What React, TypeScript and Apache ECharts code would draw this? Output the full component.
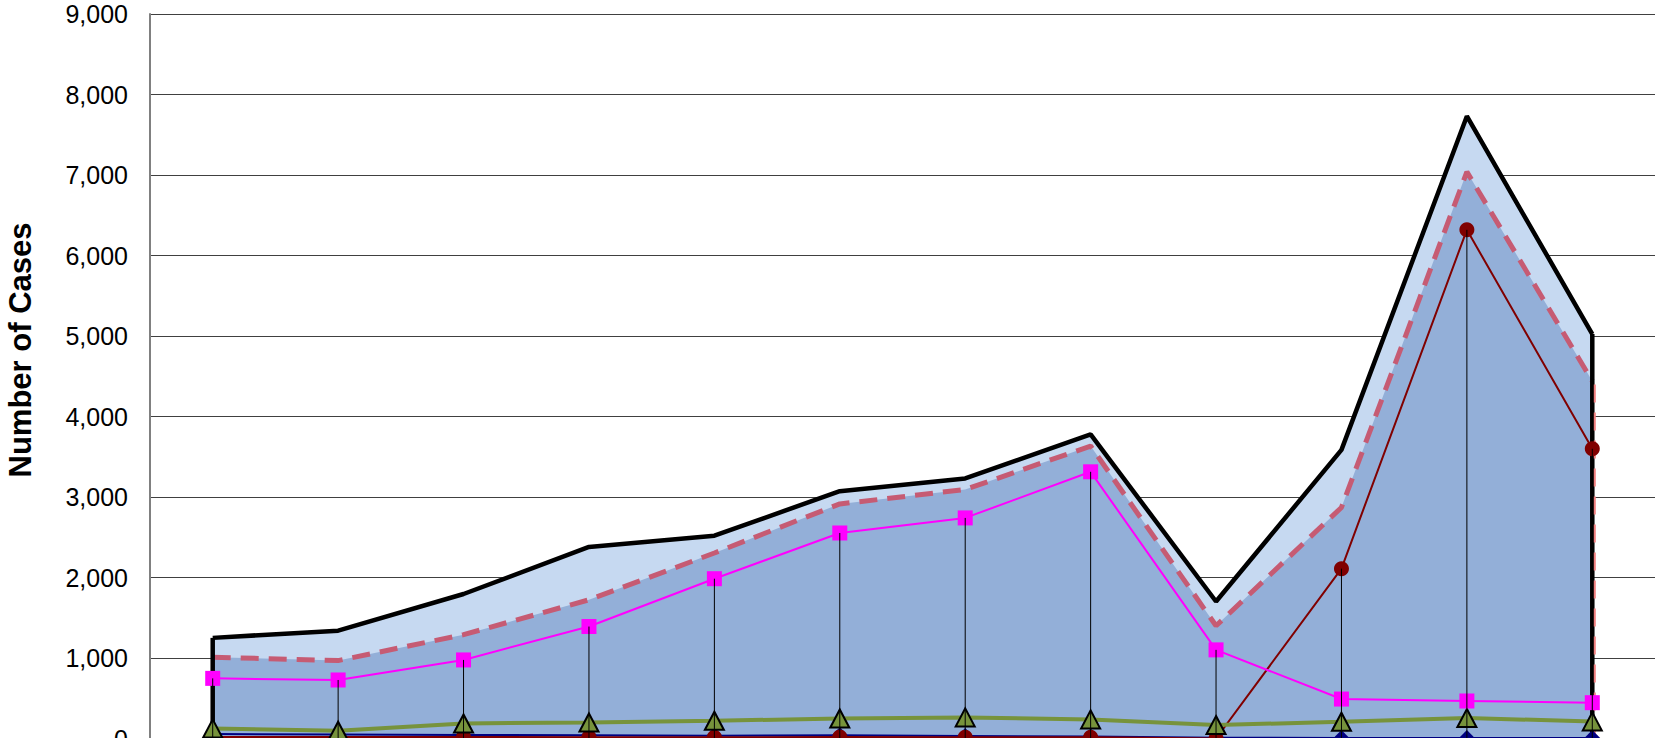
import React, { useEffect, useRef } from "react";
import * as echarts from "echarts";

const categories = ["1", "2", "3", "4", "5", "6", "7", "8", "9", "10", "11", "12"];
const totalCases = [1250, 1340, 1795, 2380, 2520, 3072, 3230, 3778, 1702, 3585, 7730, 5024];
const subtotalCases = [1010, 968, 1290, 1723, 2304, 2914, 3093, 3633, 1400, 2870, 7040, 4440];
const magentaSeries = [747, 727, 976, 1391, 1985, 2553, 2740, 3313, 1101, 490, 466, 445];
const greenSeries = [125, 96, 187, 199, 220, 249, 262, 237, 167, 208, 254, 212];
const redSeries = [20, 18, 20, 15, 15, 20, 15, 15, 0, 2110, 6319, 3599];
const navySeries = [55, 50, 45, 40, 35, 40, 30, 25, 10, 5, 5, 5];
const yTicks = [0, 1000, 2000, 3000, 4000, 5000, 6000, 7000, 8000, 9000];

const FONT = "'Liberation Sans', Arial, sans-serif";

export default function App() {
  const ref = useRef<HTMLDivElement>(null);

  useEffect(() => {
    if (!ref.current) return;
    const chart = echarts.init(ref.current, null, { renderer: "svg" });
    const last = categories.length - 1;
    const dropTops = categories.map((_, i) =>
      Math.max(magentaSeries[i], greenSeries[i], redSeries[i], navySeries[i])
    );

    const edgeData = [
      [0, totalCases[0], 0],
      [last, totalCases[last], 0],
      [last, subtotalCases[last], 1],
    ];

    chart.setOption({
      animation: false,
      backgroundColor: "#ffffff",
      grid: { left: 150, right: 0, top: 14, bottom: 21.5, containLabel: false },
      xAxis: {
        type: "category",
        data: categories,
        boundaryGap: true,
        axisLine: { show: true, lineStyle: { color: "#808080", width: 1 } },
        axisTick: { show: false },
        axisLabel: { show: false },
        splitLine: { show: false },
      },
      yAxis: {
        type: "value",
        min: yTicks[0],
        max: yTicks[yTicks.length - 1],
        interval: 1000,
        axisLine: { show: true, lineStyle: { color: "#808080", width: 2 } },
        axisTick: { show: false },
        axisLabel: {
          color: "#000",
          fontSize: 25,
          fontFamily: FONT,
          margin: 22,
          formatter: (v: number) => v.toLocaleString("en-US"),
        },
        splitLine: { show: true, lineStyle: { color: "#404040", width: 1 } },
      },
      graphic: [
        {
          type: "text",
          x: 20,
          y: 350,
          rotation: Math.PI / 2,
          style: {
            text: "Number of Cases",
            fill: "#000",
            fontSize: 31,
            fontWeight: "bold",
            fontFamily: FONT,
            align: "center",
            verticalAlign: "middle",
          },
        },
      ],
      series: [
        {
          name: "Total",
          type: "line",
          data: totalCases,
          symbol: "none",
          lineStyle: { color: "#000", width: 4.5 },
          areaStyle: { color: "#C6D9F1", opacity: 1 },
          z: 1,
        },
        {
          name: "Subtotal",
          type: "line",
          data: subtotalCases,
          symbol: "none",
          lineStyle: { color: "#C65B73", width: 5, type: [18, 10] },
          areaStyle: { color: "#93AFD8", opacity: 1 },
          z: 2,
        },
        {
          name: "edges",
          type: "custom",
          data: edgeData,
          z: 3,
          silent: true,
          renderItem: (params: any, api: any) => {
            const idx = api.value(0);
            const p0 = api.coord([idx, 0]);
            const p1 = api.coord([idx, api.value(1)]);
            const kind = api.value(2);
            return {
              type: "line",
              shape: { x1: p0[0] + (kind ? 2.5 : 0), y1: p0[1], x2: p1[0] + (kind ? 2.5 : 0), y2: p1[1] },
              style: kind
                ? { stroke: "#F08080", lineWidth: 2, lineDash: [18, 10] }
                : { stroke: "#000", lineWidth: 4.5 },
            };
          },
        },
        {
          name: "Navy",
          type: "line",
          data: navySeries,
          symbol: "diamond",
          symbolSize: 16,
          lineStyle: { color: "#000080", width: 2 },
          itemStyle: { color: "#000080" },
          z: 4,
        },
        {
          name: "Red",
          type: "line",
          data: redSeries,
          symbol: "circle",
          symbolSize: 15,
          lineStyle: { color: "#800000", width: 2 },
          itemStyle: { color: "#800000" },
          z: 5,
        },
        {
          name: "Green",
          type: "line",
          data: greenSeries,
          symbol: "triangle",
          symbolSize: [19, 18],
          lineStyle: { color: "#77933C", width: 4 },
          itemStyle: { color: "#77933C", borderColor: "#000", borderWidth: 2 },
          z: 6,
        },
        {
          name: "Magenta",
          type: "line",
          data: magentaSeries,
          symbol: "rect",
          symbolSize: 15,
          lineStyle: { color: "#FF00FF", width: 2 },
          itemStyle: { color: "#FF00FF" },
          z: 7,
        },
        {
          name: "drops",
          type: "custom",
          data: dropTops.map((v, i) => [i, v]),
          z: 8,
          silent: true,
          renderItem: (params: any, api: any) => {
            const idx = api.value(0);
            const p0 = api.coord([idx, 0]);
            const p1 = api.coord([idx, api.value(1)]);
            return {
              type: "line",
              shape: { x1: p0[0], y1: p0[1], x2: p1[0], y2: p1[1] },
              style: { stroke: "#000", lineWidth: 1 },
            };
          },
        },
      ],
    });

    return () => chart.dispose();
  }, []);

  return (
    <div style={{ position: "fixed", left: 0, top: 0, width: "100vw", height: "100vh", overflow: "hidden", background: "#fff" }}>
      <div ref={ref} style={{ width: 1655, height: 760 }} />
    </div>
  );
}
